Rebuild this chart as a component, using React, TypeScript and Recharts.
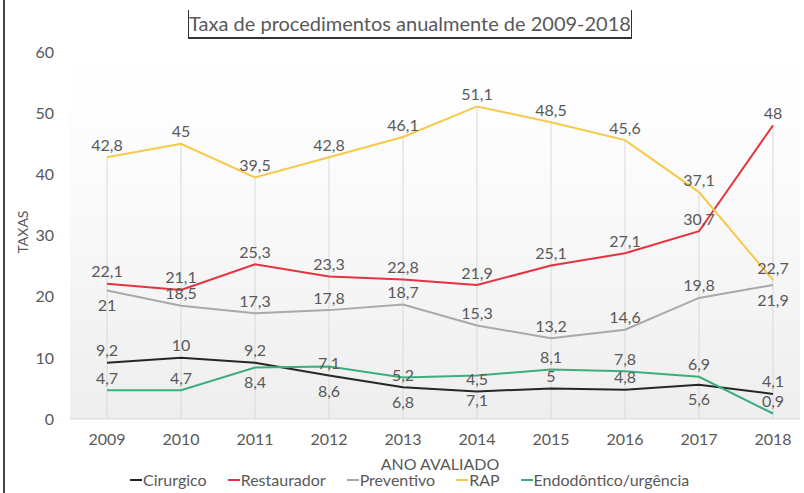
import { LineChart, Line, XAxis, YAxis, CartesianGrid, ReferenceLine, LabelList } from "recharts"

const years = ["2009", "2010", "2011", "2012", "2013", "2014", "2015", "2016", "2017", "2018"]
const cirurgico = [9.2, 10, 9.2, 7.1, 5.2, 4.5, 5, 4.8, 5.6, 4.1]
const restaurador = [22.1, 21.1, 25.3, 23.3, 22.8, 21.9, 25.1, 27.1, 30.7, 48]
const preventivo = [21, 18.5, 17.3, 17.8, 18.7, 15.3, 13.2, 14.6, 19.8, 21.9]
const rap = [42.8, 45, 39.5, 42.8, 46.1, 51.1, 48.5, 45.6, 37.1, 22.7]
const endodontico = [4.7, 4.7, 8.4, 8.6, 6.8, 7.1, 8.1, 7.8, 6.9, 0.9]
const yTicks = [0, 10, 20, 30, 40, 50, 60]

const data = years.map((ano, i) => ({
  ano,
  cirurgico: cirurgico[i],
  restaurador: restaurador[i],
  preventivo: preventivo[i],
  rap: rap[i],
  endodontico: endodontico[i],
  topo: Math.max(cirurgico[i], restaurador[i], preventivo[i], rap[i], endodontico[i]),
}))

// where each data label sits: a = above the point, b = below, B = further below
const placement: Record<string, string> = {
  cirurgico: "aaaaaaaaba",
  restaurador: "aaaaaaaaaa",
  preventivo: "baaaaaaaab",
  rap: "aaaaaaaaaa",
  endodontico: "aabBBBaaaa",
}
const labelShift: Record<string, number> = { a: -13, b: 14, B: 24 }

const series = [
  { key: "cirurgico", name: "Cirurgico", color: "#262626" },
  { key: "restaurador", name: "Restaurador", color: "#e4323f" },
  { key: "preventivo", name: "Preventivo", color: "#a9a9a9" },
  { key: "rap", name: "RAP", color: "#f7c948" },
  { key: "endodontico", name: "Endodôntico/urgência", color: "#3aae7c" },
]

const FONT = "Lato, 'Open Sans', sans-serif"
const TEXT = "#595959"

const makeLabel = (key: string) => (props: any) => {
  const { x, y, value, index } = props
  return (
    <text
      x={x}
      y={y + labelShift[placement[key][index]]}
      textAnchor="middle"
      dominantBaseline="central"
      fontSize={16}
      fontFamily={FONT}
      fill={TEXT}
    >
      {String(value).replace(".", ",")}
    </text>
  )
}

export default function App() {
  return (
    <div style={{ position: "absolute", left: 0, top: 0, width: 804, height: 493, background: "#fff", fontFamily: FONT }}>
      <div style={{ position: "absolute", left: 3, top: 0, width: 2, height: 493, background: "#444" }} />
      <div
        style={{
          position: "absolute",
          left: 188,
          top: 10,
          width: 442,
          height: 27,
          borderLeft: "1.5px solid #333",
          borderRight: "1.5px solid #333",
          borderBottom: "2px solid #333",
          color: TEXT,
          fontSize: 20,
          lineHeight: "27px",
          textAlign: "center",
          whiteSpace: "nowrap",
        }}
      >
        Taxa de procedimentos anualmente de 2009-2018
      </div>
      <LineChart width={804} height={493} data={data} margin={{ top: 52, right: 4, bottom: 44, left: 0 }}>
        <defs>
          <linearGradient id="plotBg" x1="0" y1="0" x2="0" y2="1">
            <stop offset="0%" stopColor="#ffffff" />
            <stop offset="35%" stopColor="#fbfbfb" />
            <stop offset="100%" stopColor="#eeeeee" />
          </linearGradient>
        </defs>
        <CartesianGrid horizontal={false} vertical={false} fill="url(#plotBg)" />
        <XAxis
          dataKey="ano"
          height={30}
          padding={{ left: 37, right: 27 }}
          axisLine={{ stroke: "#d9d9d9" }}
          tickLine={false}
          tickMargin={9}
          tick={{ fontSize: 16, fill: TEXT, fontFamily: FONT }}
        />
        <YAxis
          width={70}
          domain={[0, 60]}
          ticks={yTicks}
          axisLine={false}
          tickLine={false}
          tickMargin={10}
          tick={{ fontSize: 16, fill: TEXT, fontFamily: FONT }}
        />
        {data.map((d) => (
          <ReferenceLine
            key={d.ano}
            segment={[
              { x: d.ano, y: 0 },
              { x: d.ano, y: d.topo },
            ]}
            stroke="#d9d9d9"
            strokeWidth={1}
          />
        ))}
        {series.map((s) => (
          <Line
            key={s.key}
            type="linear"
            dataKey={s.key}
            name={s.name}
            stroke={s.color}
            strokeWidth={2}
            dot={false}
            activeDot={false}
            isAnimationActive={false}
          >
            <LabelList dataKey={s.key} content={makeLabel(s.key)} />
          </Line>
        ))}
      </LineChart>
      <div
        style={{
          position: "absolute",
          left: 8,
          top: 232,
          transform: "translate(-50%, -50%) rotate(-90deg)",
          transformOrigin: "center",
          marginLeft: 14,
          fontSize: 14,
          color: TEXT,
          whiteSpace: "nowrap",
        }}
      >
        TAXAS
      </div>
      <div style={{ position: "absolute", left: 0, width: 880, top: 455, textAlign: "center", fontSize: 16, color: TEXT, lineHeight: "18px" }}>
        ANO AVALIADO
      </div>
      <div
        style={{
          position: "absolute",
          left: 130,
          top: 470,
          display: "flex",
          gap: 21,
          fontSize: 16,
          color: TEXT,
          lineHeight: "20px",
          whiteSpace: "nowrap",
        }}
      >
        {series.map((s) => (
          <div key={s.key} style={{ display: "flex", alignItems: "center" }}>
            <span style={{ display: "inline-block", width: 12, height: 2, background: s.color, marginRight: 1 }} />
            {s.name}
          </div>
        ))}
      </div>
    </div>
  )
}
